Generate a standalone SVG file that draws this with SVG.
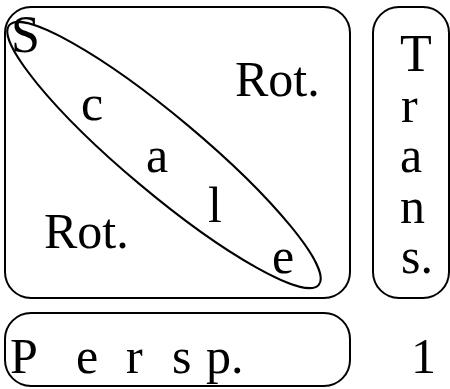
<svg xmlns="http://www.w3.org/2000/svg" width="450" height="389" viewBox="0 0 450 389">
<style>
.box{fill:none;stroke:#000;stroke-width:2}
text{font-family:"Liberation Serif","Times New Roman",serif;font-size:50px;fill:#000}
.big{font-size:52px}
</style>
<rect width="450" height="389" fill="#fff"/>
<g id="matrix">
<rect class="box" x="5" y="7" width="345" height="291" rx="26" ry="26"/>
</g>
<g id="scale">
<ellipse class="box" cx="164" cy="155" rx="202" ry="38" transform="rotate(40 164 155)"/>
<text class="big" x="11" y="52">S</text>
<text x="81" y="120">c</text>
<text x="146" y="172">a</text>
<text x="208" y="222">l</text>
<text x="272" y="273">e</text>
</g>
<g id="rot1"><text x="235" y="96">Rot.</text></g>
<g id="rot2"><text x="44" y="248">Rot.</text></g>
<g id="trans">
<rect class="box" x="373" y="7" width="76" height="291" rx="26" ry="26"/>
<text class="big" x="400" y="71">T</text>
<text x="401" y="122">r</text>
<text x="400" y="172">a</text>
<text x="400" y="223">n</text>
<text x="401" y="273">s.</text>
</g>
<g id="persp">
<rect class="box" x="5" y="313" width="345" height="73" rx="26" ry="26"/>
<text x="10" y="373">P</text>
<text x="76" y="373">e</text>
<text x="126" y="373">r</text>
<text x="172" y="373">s</text>
<text x="206" y="373">p.</text>
</g>
<g id="one"><text x="411" y="373">1</text></g>
<g id="connectors"/>
</svg>
